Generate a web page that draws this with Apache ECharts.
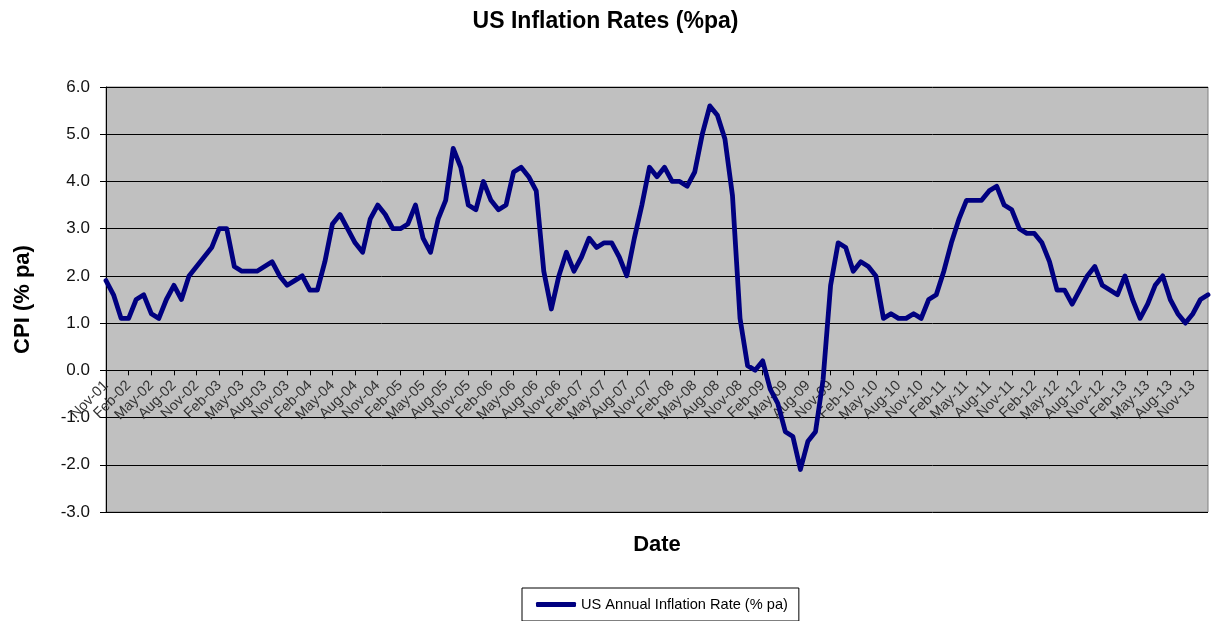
<!DOCTYPE html>
<html>
<head>
<meta charset="utf-8">
<title>US Inflation Rates (%pa)</title>
<script src="https://cdn.jsdelivr.net/npm/echarts/dist/echarts.min.js"></script>
<style>
    html, body { margin: 0; padding: 0; background: #fff; }
    #chart_wrap { width: 1211px; height: 621px; }
</style>
</head>
<body>
<div id="chart_wrap"></div>
<script>
// month labels, Nov-01 .. Jan-14
var monthNames = ['Jan', 'Feb', 'Mar', 'Apr', 'May', 'Jun', 'Jul', 'Aug', 'Sep', 'Oct', 'Nov', 'Dec'];
var yearLabels = ['01', '02', '03', '04', '05', '06', '07', '08', '09', '10', '11', '12', '13', '14'];

// annual CPI change (% pa), one array per calendar year
var cpi2001 = [1.9, 1.6];   // Nov, Dec
var cpi2002 = [1.1, 1.1, 1.5, 1.6, 1.2, 1.1, 1.5, 1.8, 1.5, 2.0, 2.2, 2.4];
var cpi2003 = [2.6, 3.0, 3.0, 2.2, 2.1, 2.1, 2.1, 2.2, 2.3, 2.0, 1.8, 1.9];
var cpi2004 = [2.0, 1.7, 1.7, 2.3, 3.1, 3.3, 3.0, 2.7, 2.5, 3.2, 3.5, 3.3];
var cpi2005 = [3.0, 3.0, 3.1, 3.5, 2.8, 2.5, 3.2, 3.6, 4.7, 4.3, 3.5, 3.4];
var cpi2006 = [4.0, 3.6, 3.4, 3.5, 4.2, 4.3, 4.1, 3.8, 2.1, 1.3, 2.0, 2.5];
var cpi2007 = [2.1, 2.4, 2.8, 2.6, 2.7, 2.7, 2.4, 2.0, 2.8, 3.5, 4.3, 4.1];
var cpi2008 = [4.3, 4.0, 4.0, 3.9, 4.2, 5.0, 5.6, 5.4, 4.9, 3.7, 1.1, 0.1];
var cpi2009 = [0.0, 0.2, -0.4, -0.7, -1.3, -1.4, -2.1, -1.5, -1.3, -0.2, 1.8, 2.7];
var cpi2010 = [2.6, 2.1, 2.3, 2.2, 2.0, 1.1, 1.2, 1.1, 1.1, 1.2, 1.1, 1.5];
var cpi2011 = [1.6, 2.1, 2.7, 3.2, 3.6, 3.6, 3.6, 3.8, 3.9, 3.5, 3.4, 3.0];
var cpi2012 = [2.9, 2.9, 2.7, 2.3, 1.7, 1.7, 1.4, 1.7, 2.0, 2.2, 1.8, 1.7];
var cpi2013 = [1.6, 2.0, 1.5, 1.1, 1.4, 1.8, 2.0, 1.5, 1.2, 1.0, 1.2, 1.5];
var cpi2014 = [1.6];        // Jan

var yearly = [cpi2001, cpi2002, cpi2003, cpi2004, cpi2005, cpi2006, cpi2007,
              cpi2008, cpi2009, cpi2010, cpi2011, cpi2012, cpi2013, cpi2014];

// y axis range
var yMin = -3, yMax = 6, yStep = 1;

// build the category list and the series from the arrays above
var dates = [];
var cpi = [];
for (var y = 0; y < yearly.length; y++) {
    var firstMonth = (y === 0) ? 12 - yearly[0].length : 0;
    for (var m = 0; m < yearly[y].length; m++) {
        dates.push(monthNames[firstMonth + m] + '-' + yearLabels[y]);
        cpi.push(yearly[y][m]);
    }
}

var font = 'Liberation Sans, Arial, sans-serif';
var chart_wrap = document.getElementById('chart_wrap');
var chart = echarts.init(chart_wrap);

// plot area in pixels
var gridTop = 87, gridBottom = 109;
var plotHeight = 621 - gridTop - gridBottom;
// the date axis crosses at 0, so lift it up from the bottom of the plot
var zeroLift = plotHeight * (0 - yMin) / (yMax - yMin);

var option = {
    animation: false,
    backgroundColor: '#fff',
    textStyle: { fontFamily: font },
    title: {
        text: 'US Inflation Rates (%pa)',
        left: 'center',
        top: 5,
        textStyle: { fontFamily: font, fontSize: 23, fontWeight: 'bold', color: '#000' }
    },
    legend: {
        data: ['US Annual Inflation Rate (% pa)'],
        left: 522,
        top: 588,
        padding: [9, 11, 9, 14],
        itemWidth: 40,
        itemHeight: 5,
        itemGap: 5,
        icon: 'roundRect',
        backgroundColor: '#fff',
        borderColor: '#000',
        borderWidth: 1,
        borderRadius: 0,
        textStyle: { fontFamily: font, fontSize: 14.6, color: '#000' }
    },
    grid: {
        left: 106,
        right: 3,
        top: gridTop,
        bottom: gridBottom,
        containLabel: false,
        outerBoundsMode: 'none',
        show: true,
        backgroundColor: '#c0c0c0',
        borderColor: '#808080',
        borderWidth: 1
    },
    xAxis: {
        type: 'category',
        data: dates,
        boundaryGap: false,
        offset: -zeroLift,
        name: 'Date',
        nameLocation: 'middle',
        nameGap: 164,
        nameTextStyle: { fontFamily: font, fontSize: 22, fontWeight: 'bold', color: '#000' },
        axisLine: { onZero: false, lineStyle: { color: '#000', width: 1 } },
        axisTick: { show: true, interval: 2, length: 5, lineStyle: { color: '#000' } },
        axisLabel: {
            interval: 2,
            rotate: 45,
            margin: 13,
            fontFamily: font,
            fontSize: 14.5,
            color: '#333'
        },
        splitLine: { show: false }
    },
    yAxis: {
        type: 'value',
        min: yMin,
        max: yMax,
        interval: yStep,
        name: 'CPI (% pa)',
        nameLocation: 'middle',
        nameRotate: 90,
        nameGap: 72,
        nameTextStyle: { fontFamily: font, fontSize: 22, fontWeight: 'bold', color: '#000' },
        axisLine: { show: true, lineStyle: { color: '#000', width: 1 } },
        axisTick: { show: true, length: 6, lineStyle: { color: '#000' } },
        axisLabel: {
            margin: 16,
            fontFamily: font,
            fontSize: 17,
            color: '#111',
            formatter: function (v) { return v.toFixed(1); }
        },
        splitLine: { show: true, lineStyle: { color: '#000', width: 1 } }
    },
    series: [
        {
            name: 'US Annual Inflation Rate (% pa)',
            type: 'line',
            data: cpi,
            showSymbol: false,
            symbol: 'none',
            smooth: false,
            lineStyle: { color: '#000080', width: 4.8, cap: 'round', join: 'round' },
            itemStyle: { color: '#000080' }
        }
    ]
};

chart.setOption(option);
</script>
</body>
</html>
